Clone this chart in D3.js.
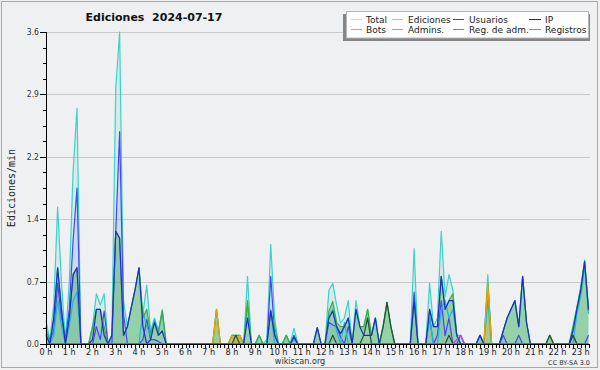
<!DOCTYPE html>
<html><head><meta charset="utf-8">
<script src="https://cdn.jsdelivr.net/npm/d3@7"></script>
<style>
body{margin:0;background:#f0f0f0}
svg{display:block}
text{font-family:"DejaVu Sans",sans-serif;fill:#222}
</style>
</head><body>
<svg id="chart" width="600" height="370"></svg>
<script>
// 10-minute steps from 0:00 to 23:20 (141 points), values in edits/min
const hourLabels = d3.range(24).map(h => h + " h");
const yTickValues = [0, 0.72, 1.44, 2.16, 2.88, 3.6];
const yTickLabels = ["0.0", "0.7", "1.4", "2.2", "2.9", "3.6"];
const title = "Ediciones  2024-07-17";

const total = [
 .27,.05,.45,1.58,.70,.05,   .70,2.00,2.72,0,0,0,   .20,.58,.45,.58,0,.10,
 2.95,3.60,.50,.20,.42,.63,  .88,.35,.68,.15,.30,.15, .40,0,0,0,0,0,
 0,0,0,0,0,0,  0,0,.40,0,0,0,  .10,.10,.10,0,.78,0,  0,.10,0,.05,1.15,.30,
 0,0,.10,0,.18,0,  0,0,0,0,.19,0,  0,.62,.70,.45,.24,.30,  .50,0,.50,.20,.20,.40,
 .10,.30,0,.20,.48,.20,  0,0,0,0,0,1.10,  0,0,0,.70,.20,.30,  1.30,.55,.80,.62,.10,.10,
 0,0,0,0,.10,0,  .80,0,0,0,.15,.30,  .40,.50,.20,.78,.25,0,  0,0,0,0,.10,0,
 0,0,0,0,.20,.42,  .65,.97,.40];
const ediciones = [
 .12,0,.30,.88,.40,0,   .30,.80,.88,0,0,0,   .20,.40,.40,.20,0,.10,
 1.30,1.22,.10,.20,.42,.63,  .88,.30,.40,.12,.25,.12,  .38,0,0,0,0,0,
 0,0,0,0,0,0,  0,0,.40,0,0,0,  .10,.10,.10,0,.50,0,  0,.10,0,0,.38,.20,
 0,0,.10,0,.08,0,  0,0,0,0,.19,0,  0,.38,.49,.25,.20,.20,  .30,0,.40,.20,.20,.40,
 .10,.30,0,.20,.48,.20,  0,0,0,0,0,.50,  0,0,0,.40,.20,.20,  .78,.40,.50,.58,.10,0,
 0,0,0,0,.10,0,  .70,0,0,0,.15,.30,  .40,.50,.20,.78,.25,0,  0,0,0,0,.10,0,
 0,0,0,0,.20,.42,  .65,.95,.38];
const usuarios = [
 .10,0,.30,.88,.40,0,   .30,.80,.88,0,0,0,   .05,.40,.40,.10,0,.10,
 1.30,1.22,.10,.20,.42,.63,  .88,.20,0,.05,.25,.10,  .15,0,0,0,0,0,
 0,0,0,0,0,0,  0,0,0,0,0,0,  0,0,0,0,.30,0,  0,0,0,0,.38,.10,
 0,0,0,0,.08,0,  0,0,0,0,.19,0,  0,.30,.38,.20,.12,.20,  .30,0,.40,.20,.10,.10,
 .10,.30,0,0,0,0,  0,0,0,0,0,.50,  0,0,0,.40,.20,.20,  .78,.40,.50,.50,.10,0,
 0,0,0,0,.10,0,  0,0,0,0,.15,.30,  .40,.50,.20,.78,.25,0,  0,0,0,0,0,0,
 0,0,0,0,.15,.40,  .62,.95,.40];
const ip = [
 0,0,0,0,0,0,  0,0,0,0,0,0,  0,0,0,0,0,0,  0,0,0,0,0,0,  0,0,0,0,0,0,  0,0,0,0,0,0,
 0,0,0,0,0,0,  0,0,0,0,0,0,  0,.10,0,0,0,0,  0,0,0,0,0,0,  0,0,0,0,0,0,  0,0,0,0,0,0,
 0,0,.10,0,0,0,  0,0,0,0,.10,.30,  0,0,0,.20,.48,.20,  0,0,0,0,0,0,  0,0,0,0,0,0,  0,0,.10,0,0,0,
 0,0,0,0,0,0,  0,0,0,0,0,0,  0,0,0,0,0,0,  0,0,0,0,.10,0,  0,0,0,0,.10,0,  0,0,0];
const bots = [
 0,0,0,0,0,0,  0,0,0,0,0,0,  0,0,0,0,0,0,  0,0,0,0,0,0,  0,0,0,0,0,0,  0,0,0,0,0,0,
 0,0,0,0,0,0,  0,0,.40,0,0,0,  .10,0,.10,0,0,0,  0,0,0,0,0,0,  0,0,0,0,0,0,  0,0,0,0,0,0,
 0,0,0,0,0,0,  0,0,0,0,0,0,  0,0,0,0,0,0,  0,0,0,0,0,0,  0,0,0,0,0,0,  0,0,0,0,0,0,
 0,0,0,0,0,0,  .70,0,0,0,0,0,  0,0,0,0,0,0,  0,0,0,0,0,0,  0,0,0,0,0,0,  0,0,0];
const admins = [
 .20,0,.10,.50,.20,0,  .20,.50,.60,0,0,0,  0,0,0,0,0,0,  0,0,0,0,0,0,  0,.38,.20,.10,.28,.15,  .38,0,0,0,0,0,
 0,0,0,0,0,0,  0,0,0,0,0,0,  0,0,0,0,.45,0,  0,.10,0,0,.40,0,  0,0,.10,0,.05,0,  0,0,0,0,0,0,
 0,.30,.40,.15,0,.25,  0,0,0,0,0,0,  0,0,0,0,0,0,  0,0,0,0,0,0,  0,0,0,.30,0,0,  .40,.50,.30,.40,.10,0,
 0,0,0,0,0,0,  .50,0,0,0,0,0,  0,0,0,0,0,0,  0,0,0,0,0,0,  0,0,0,0,0,.35,  .55,.90,.35];
const regAdm = [
 0,0,0,0,0,0,  0,0,0,0,0,0,  0,0,0,0,0,0,  0,0,0,0,0,0,  0,0,0,0,0,0,  0,0,0,0,0,0,
 0,0,0,0,0,0,  0,0,0,0,0,0,  0,0,0,0,0,0,  0,0,0,0,0,0,  0,0,0,0,0,0,  0,0,0,0,0,0,
 0,0,0,0,0,0,  0,0,0,0,0,0,  0,0,0,0,0,0,  0,0,0,0,0,0,  0,0,0,0,0,0,  0,0,0,0,.05,.10,
 0,0,0,0,0,0,  0,0,0,0,0,0,  0,0,0,0,0,0,  0,0,0,0,0,0,  0,0,0,0,0,0,  0,0,0];
const registros = [
 .15,.05,.15,.70,.30,.05,  .40,1.20,1.80,0,0,0,  0,.20,.05,.38,0,0,
 1.30,2.45,.35,0,0,0,  0,.05,.28,.05,.05,.03,  0,0,0,0,0,0,
 0,0,0,0,0,0,  0,0,0,0,0,0,  0,0,0,0,0,0,  0,0,0,0,.78,.10,
 0,0,0,0,.10,0,  0,0,0,0,0,0,  0,.25,.22,.20,.08,0,  .20,0,0,0,0,0,
 0,0,0,0,0,0,  0,0,0,0,0,.60,  0,0,0,.30,0,.10,  .50,.10,.30,0,0,.10,
 0,0,0,0,.10,0,  0,0,0,0,.10,0,  0,0,.10,0,0,0,  0,0,0,0,0,0,
 0,0,0,0,.10,0,  0,0,.10];

const legendItems = [
 {name:"Total", color:"#a8e6e4"}, {name:"Ediciones", color:"#8cd88c"},
 {name:"Usuarios", color:"#4040d8"}, {name:"IP", color:"#333333"},
 {name:"Bots", color:"#f0a030"}, {name:"Admins.", color:"#40c8e0"},
 {name:"Reg. de adm.", color:"#d050e0"}, {name:"Registros", color:"#8080ee"}
];

const svg = d3.select("#chart");
const x = d3.scaleLinear().domain([0, 140]).range([46, 588.5]);
const y = d3.scaleLinear().domain([0, 3.6]).range([344, 32]);

// background + border
svg.append("rect").attr("x",1.5).attr("y",1.5).attr("width",596).attr("height",366)
  .attr("fill","#eff0f1").attr("stroke","#a9a9a9");

// grid
svg.append("g").selectAll("line").data(yTickValues.slice(1)).join("line")
  .attr("x1",46).attr("x2",590).attr("y1",d=>Math.round(y(d))+0.5).attr("y2",d=>Math.round(y(d))+0.5)
  .attr("stroke","#cacaca");

const idx = d3.range(total.length);
const area = arr => d3.area().x(i=>x(i)).y0(y(0)).y1(i=>y(arr[i]))(idx);
const line = arr => d3.line().x(i=>x(i)).y(i=>y(arr[i]))(idx);

const gp = svg.append("g");
gp.append("path").attr("d",area(total)).attr("fill","rgba(64,208,200,0.15)");
gp.append("path").attr("d",area(registros)).attr("fill","rgba(90,120,235,0.12)");
gp.append("path").attr("d",area(ediciones)).attr("fill","rgba(50,170,70,0.4)");
gp.append("path").attr("d",area(bots)).attr("fill","rgba(240,160,0,0.15)");

const lines = [
 [total,"#3cd2c8"], [registros,"#4646f2"], [admins,"#22b4dc"], [ediciones,"#3cae3c"],
 [bots,"#f0a000"], [ip,"#2a4a34"], [usuarios,"#1c2cd0"], [regAdm,"#c040e0"]
];
lines.forEach(([arr,c]) => gp.append("path").attr("d",line(arr)).attr("fill","none")
  .attr("stroke",c).attr("stroke-width",1.2).attr("stroke-linejoin","round"));

// y axis
const ya = svg.append("g");
ya.append("line").attr("x1",46.5).attr("x2",46.5).attr("y1",32).attr("y2",344).attr("stroke","#000");
const yMinor = d3.range(0, 21).map(k => k*0.18);
ya.selectAll("line.mn").data(yMinor).join("line").attr("class","mn")
  .attr("x1",43).attr("x2",46).attr("y1",d=>Math.round(y(d))+0.5).attr("y2",d=>Math.round(y(d))+0.5).attr("stroke","#000");
ya.selectAll("line.mj").data(yTickValues).join("line").attr("class","mj")
  .attr("x1",40).attr("x2",46).attr("y1",d=>Math.round(y(d))+0.5).attr("y2",d=>Math.round(y(d))+0.5).attr("stroke","#000");
ya.selectAll("text").data(yTickValues).join("text")
  .attr("x",39).attr("y",d=>y(d)+3).attr("text-anchor","end")
  .style("font-family","'DejaVu Sans Condensed','Liberation Sans Narrow',sans-serif").style("font-size","8.5px").style("fill","#333")
  .text((d,i)=>yTickLabels[i]);

// x axis
const xa = svg.append("g");
xa.append("line").attr("x1",46).attr("x2",589).attr("y1",344.5).attr("y2",344.5).attr("stroke","#000");
xa.selectAll("line.t").data(idx).join("line").attr("class","t")
  .attr("x1",d=>Math.round(x(d))+0.5).attr("x2",d=>Math.round(x(d))+0.5).attr("y1",344).attr("y2",348).attr("stroke","#000");
xa.selectAll("text").data(hourLabels).join("text")
  .attr("x",(d,i)=>x(i*6)).attr("y",355).attr("text-anchor","middle")
  .style("font-family","'DejaVu Sans Condensed','Liberation Sans Narrow',sans-serif").style("font-size","9px").style("fill","#222")
  .text(d=>d);

// titles
svg.append("text").attr("x",154).attr("y",21).attr("text-anchor","middle")
  .style("font-weight","bold").style("font-size","11px").style("white-space","pre").style("fill","#111").text(title);
svg.append("text").attr("transform","translate(15,188) rotate(-90)").attr("text-anchor","middle")
  .style("font-family","'DejaVu Sans Mono',monospace").style("font-size","10px").text("Ediciones/min");
svg.append("text").attr("x",300).attr("y",364).attr("text-anchor","middle")
  .style("font-family","'DejaVu Sans Condensed','Liberation Sans Narrow',sans-serif").style("font-size","9px").style("fill","#333").text("wikiscan.org");
svg.append("text").attr("x",590).attr("y",365).attr("text-anchor","end")
  .style("font-size","6.5px").style("fill","#333").text("CC BY-SA 3.0");

// legend
const lg = svg.append("g");
lg.append("rect").attr("x",343).attr("y",14).attr("width",247).attr("height",27).attr("fill","#858585");
lg.append("rect").attr("x",346.5).attr("y",11.5).attr("width",242).attr("height",26.5).attr("fill","#fff").attr("stroke","#b8b8b8");
const colX = [[351,362,366],[392,403,408],[453,464,469],[529,541,545]];
legendItems.forEach((it,k)=>{
  const col = k%4, row = Math.floor(k/4);
  const cy = 19 + row*10;
  lg.append("line").attr("x1",colX[col][0]).attr("x2",colX[col][1]).attr("y1",cy+0.5).attr("y2",cy+0.5)
    .attr("stroke",it.color).attr("stroke-width",1);
  lg.append("text").attr("x",colX[col][2]).attr("y",cy+3.5).style("font-size","9px").style("fill","#222").text(it.name);
});
</script>
</body></html>
